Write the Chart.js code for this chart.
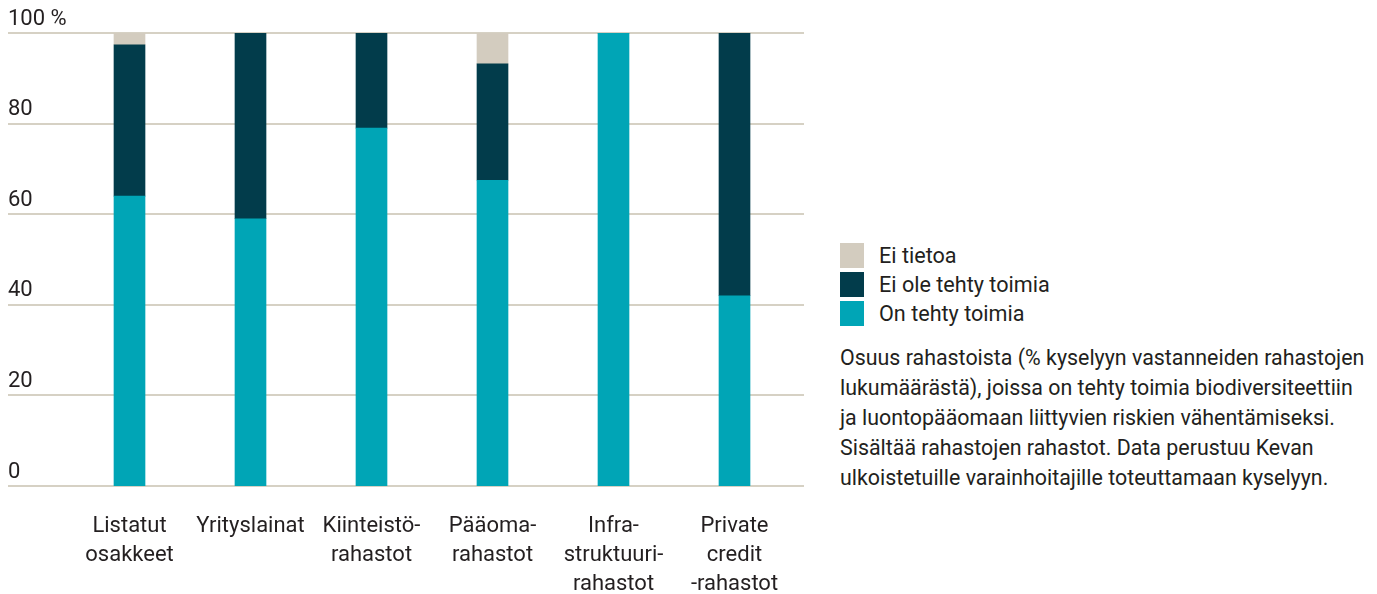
<!DOCTYPE html>
<html lang="fi">
<head>
<meta charset="utf-8">
<script src="https://cdn.jsdelivr.net/npm/chart.js@4/dist/chart.umd.min.js"></script>
<style>
  html, body { margin: 0; padding: 0; background: #fff; }
  body { width: 1377px; height: 594px; position: relative; overflow: hidden;
         font-family: Roboto, "DejaVu Sans", sans-serif; color: #231f20; }
  #chartBox { position: absolute; left: 0; top: 0; width: 820px; height: 594px; }
  #legend { position: absolute; left: 840px; top: 241px; }
  .item { display: flex; align-items: center; height: 29px; font-size: 21.6px; white-space: nowrap; }
  .swatch { width: 24px; height: 25px; margin-right: 15px; }
  #note { position: absolute; left: 840px; top: 343px; font-size: 21.4px; line-height: 30px; white-space: nowrap; }
</style>
</head>
<body>
<div id="chartBox"><canvas id="chart"></canvas></div>
<div id="legend"></div>
<div id="note">Osuus rahastoista (% kyselyyn vastanneiden rahastojen<br>lukumäärästä), joissa on tehty toimia biodiversiteettiin<br>ja luontopääomaan liittyvien riskien vähentämiseksi.<br>Sisältää rahastojen rahastot. Data perustuu Kevan<br>ulkoistetuille varainhoitajille toteuttamaan kyselyyn.</div>
<script>
const categories = [
  ['Listatut', 'osakkeet'],
  ['Yrityslainat'],
  ['Kiinteistö-', 'rahastot'],
  ['Pääoma-', 'rahastot'],
  ['Infra-', 'struktuuri-', 'rahastot'],
  ['Private', 'credit', '-rahastot']
];
const onTehty = [64.0, 59.0, 79.0, 67.5, 100, 42.0];
const eiTehty = [33.4, 41.0, 21.0, 25.7, 0, 58.0];
const eiTietoa = [2.6, 0, 0, 6.8, 0, 0];
const yTicks = [0, 20, 40, 60, 80, 100];

const FONT = 'Roboto, "DejaVu Sans", sans-serif';
const TEXT = '#231f20';
const GRID = '#d6d1c4';

// horizontal gridlines run a little wider than the bar area
const gridPlugin = {
  id: 'wideGrid',
  beforeDatasetsDraw(chart) {
    const y = chart.scales.y;
    const ctx = chart.ctx;
    ctx.save();
    ctx.strokeStyle = GRID;
    ctx.lineWidth = 2;
    yTicks.forEach(v => {
      const py = Math.round(y.getPixelForValue(v));
      ctx.beginPath();
      ctx.moveTo(8, py);
      ctx.lineTo(804, py);
      ctx.stroke();
    });
    ctx.restore();
  }
};

const chart = new Chart(document.getElementById('chart'), {
  type: 'bar',
  data: {
    labels: categories,
    datasets: [
      { label: 'On tehty toimia', data: onTehty, backgroundColor: '#00a5b6' },
      { label: 'Ei ole tehty toimia', data: eiTehty, backgroundColor: '#023c4b' },
      { label: 'Ei tietoa', data: eiTietoa, backgroundColor: '#d3ccbf' }
    ]
  },
  options: {
    responsive: true,
    maintainAspectRatio: false,
    animation: false,
    layout: { padding: { left: 8, right: 25, top: 33, bottom: 0 } },
    datasets: { bar: { barThickness: 31, borderWidth: 0 } },
    plugins: { legend: { display: false }, tooltip: { enabled: false } },
    scales: {
      x: {
        stacked: true,
        afterFit(scale) { scale.height = 108; },
        grid: { display: false },
        border: { display: false },
        ticks: { color: TEXT, font: { family: FONT, size: 22, lineHeight: 1.32 }, padding: 18, maxRotation: 0, autoSkip: false }
      },
      y: {
        stacked: true,
        min: 0,
        max: 100,
        afterBuildTicks(scale) { scale.ticks = yTicks.map(v => ({ value: v })); },
        afterFit(scale) { scale.width = 61; },
        grid: { display: false },
        border: { display: false },
        ticks: {
          color: TEXT,
          font: { family: FONT, size: 22 },
          crossAlign: 'far',
          padding: 0,
          labelOffset: -14,
          callback: v => v === 100 ? '100 %' : v
        }
      }
    }
  },
  plugins: [gridPlugin]
});

// legend listed from the top segment down
const legend = document.getElementById('legend');
chart.data.datasets.slice().reverse().forEach(ds => {
  const row = document.createElement('div');
  row.className = 'item';
  row.innerHTML = `<span class="swatch" style="background:${ds.backgroundColor}"></span>${ds.label}`;
  legend.appendChild(row);
});
</script>
</body>
</html>
